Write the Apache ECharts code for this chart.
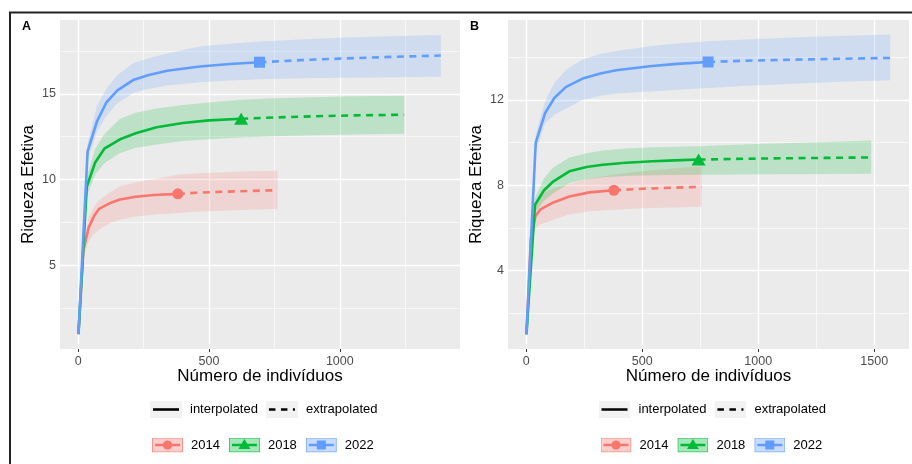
<!DOCTYPE html>
<html>
<head>
<meta charset="utf-8">
<script src="https://cdn.jsdelivr.net/npm/echarts@6.0.0/dist/echarts.min.js"></script>
<style>
  html, body { margin: 0; padding: 0; background: #fff; }
  #chart { width: 912px; height: 464px; }
</style>
</head>
<body>
<div id="chart"></div>
<script>
// ---- data ----
const years = ['2014', '2018', '2022'];

// panel A
const A_n = [381, 623, 693];
const A_2014_x = [1, 20, 40, 60, 80, 120, 160, 220, 290, 381, 450, 550, 650, 762];
const A_2014_y = [1, 5.9, 7.2, 7.86, 8.3, 8.62, 8.84, 9.0, 9.1, 9.17, 9.23, 9.29, 9.34, 9.38];
const A_2014_lo = [1, 5.5, 6.4, 6.85, 7.1, 7.45, 7.67, 7.85, 7.96, 8.06, 8.12, 8.19, 8.25, 8.3];
const A_2014_hi = [1, 6.3, 7.8, 8.4, 8.8, 9.25, 9.6, 9.85, 10.02, 10.29, 10.36, 10.43, 10.48, 10.52];
const A_2018_x = [1, 33, 65, 100, 160, 220, 300, 400, 500, 623, 750, 900, 1050, 1246];
const A_2018_y = [1, 9.6, 11.0, 11.8, 12.35, 12.7, 13.05, 13.3, 13.45, 13.55, 13.62, 13.69, 13.74, 13.78];
const A_2018_lo = [1, 9.0, 10.3, 10.95, 11.55, 11.85, 12.05, 12.25, 12.35, 12.45, 12.52, 12.58, 12.63, 12.67];
const A_2018_hi = [1, 10.2, 11.8, 12.65, 13.55, 13.9, 14.15, 14.35, 14.5, 14.65, 14.74, 14.8, 14.85, 14.88];
const A_2022_x = [1, 36, 72, 108, 150, 210, 270, 340, 465, 580, 693, 850, 1000, 1200, 1386];
const A_2022_y = [1, 11.65, 13.4, 14.5, 15.2, 15.8, 16.1, 16.34, 16.59, 16.74, 16.84, 16.96, 17.05, 17.15, 17.23];
const A_2022_lo = [1, 11.15, 12.8, 13.7, 14.45, 15.05, 15.3, 15.48, 15.68, 15.78, 15.85, 15.9, 15.94, 15.97, 16.0];
const A_2022_hi = [1, 12.1, 14.3, 15.3, 16.1, 16.78, 17.07, 17.35, 17.75, 17.92, 18.04, 18.17, 18.26, 18.35, 18.43];

// panel B
const B_n = [378, 743, 784];
const B_2014_x = [1, 20, 40, 60, 85, 120, 186, 272, 378, 500, 630, 756];
const B_2014_y = [1, 5.5, 6.55, 6.85, 7.0, 7.2, 7.47, 7.66, 7.76, 7.83, 7.88, 7.92];
const B_2014_lo = [1, 5.2, 6.0, 6.15, 6.25, 6.4, 6.62, 6.77, 6.85, 6.91, 6.95, 6.98];
const B_2014_hi = [1, 5.8, 7.1, 7.45, 7.7, 7.85, 8.05, 8.3, 8.5, 8.65, 8.78, 8.88];
const B_2018_x = [1, 38, 76, 114, 186, 260, 330, 430, 545, 640, 743, 900, 1100, 1300, 1487];
const B_2018_y = [1, 7.08, 7.75, 8.15, 8.65, 8.85, 8.96, 9.05, 9.12, 9.16, 9.2, 9.23, 9.26, 9.28, 9.3];
const B_2018_lo = [1, 6.7, 7.25, 7.6, 8.1, 8.28, 8.37, 8.43, 8.46, 8.48, 8.49, 8.5, 8.51, 8.52, 8.53];
const B_2018_hi = [1, 7.4, 8.3, 8.8, 9.3, 9.5, 9.62, 9.72, 9.78, 9.8, 9.82, 9.9, 9.97, 10.03, 10.09];
const B_2022_x = [1, 41, 82, 122, 172, 243, 320, 388, 532, 650, 784, 950, 1150, 1350, 1569];
const B_2022_y = [1, 10.0, 11.4, 12.1, 12.61, 13.0, 13.24, 13.39, 13.58, 13.69, 13.78, 13.84, 13.89, 13.93, 13.97];
const B_2022_lo = [1, 9.6, 10.9, 11.3, 11.6, 12.0, 12.2, 12.3, 12.4, 12.48, 12.56, 12.66, 12.76, 12.85, 12.92];
const B_2022_hi = [1, 10.4, 11.95, 12.8, 13.42, 13.9, 14.15, 14.3, 14.52, 14.65, 14.75, 14.84, 14.93, 15.0, 15.07];

// axis ticks
const A_xTicks = [0, 500, 1000];
const A_xMinor = [250, 750, 1250];
const A_yTicks = [5, 10, 15];
const A_yMinor = [2.5, 7.5, 12.5, 17.5];
const B_xTicks = [0, 500, 1000, 1500];
const B_xMinor = [250, 750, 1250];
const B_yTicks = [4, 8, 12];
const B_yMinor = [2, 6, 10, 14];

// ---- styling ----
const FONT = '"Liberation Sans", Arial, sans-serif';
const COLORS = ['#F8766D', '#00BA38', '#619CFF'];
const RGB = ['248,118,109', '0,186,56', '97,156,255'];
const SYMBOLS = ['circle', 'triangle', 'rect'];
const SYMBOL_SIZES = [11, [14, 12], 11];

const panels = [
  {
    label: 'A', grid: { left: 60, top: 20, width: 400, height: 329 },
    xMin: -69.5, xMax: 1459.5, yMin: 0.13, yMax: 19.3,
    xTicks: A_xTicks, xMinor: A_xMinor, yTicks: A_yTicks, yMinor: A_yMinor,
    n: A_n,
    curves: [
      [A_2014_x, A_2014_y, A_2014_lo, A_2014_hi],
      [A_2018_x, A_2018_y, A_2018_lo, A_2018_hi],
      [A_2022_x, A_2022_y, A_2022_lo, A_2022_hi]
    ],
    legendLeft: [150, 152], labelPos: [22, 20]
  },
  {
    label: 'B', grid: { left: 508, top: 20, width: 401, height: 329 },
    xMin: -78.5, xMax: 1650, yMin: 0.31, yMax: 15.75,
    xTicks: B_xTicks, xMinor: B_xMinor, yTicks: B_yTicks, yMinor: B_yMinor,
    n: B_n,
    curves: [
      [B_2014_x, B_2014_y, B_2014_lo, B_2014_hi],
      [B_2018_x, B_2018_y, B_2018_lo, B_2018_hi],
      [B_2022_x, B_2022_y, B_2022_lo, B_2022_hi]
    ],
    legendLeft: [598.5, 600.5], labelPos: [470, 20]
  }
];

const svgIcon = (w, h, body) => 'image://data:image/svg+xml;charset=utf-8,' +
  encodeURIComponent(`<svg xmlns="http://www.w3.org/2000/svg" width="${w}" height="${h}" viewBox="0 0 ${w} ${h}">${body}</svg>`);

const ICON_SOLID = svgIcon(32, 17,
  '<rect width="32" height="17" fill="#F2F2F2"/><line x1="3" y1="8.5" x2="29" y2="8.5" stroke="#000" stroke-width="2.6"/>');
const ICON_DASH = svgIcon(32, 17,
  '<rect width="32" height="17" fill="#F2F2F2"/><line x1="3" y1="8.5" x2="29" y2="8.5" stroke="#000" stroke-width="2.6" stroke-dasharray="6.5 5.5"/>');

function yearIcon(i) {
  const c = COLORS[i];
  let marker = '';
  if (i === 0) marker = `<circle cx="15.5" cy="7.5" r="4.6" fill="${c}"/>`;
  if (i === 1) marker = `<polygon points="15.5,1.5 21.5,11.5 9.5,11.5" fill="${c}"/>`;
  if (i === 2) marker = `<rect x="11" y="3" width="9" height="9" fill="${c}"/>`;
  return svgIcon(31, 15,
    `<rect x="0.5" y="0.5" width="30" height="14" fill="rgba(${RGB[i]},0.35)" stroke="rgba(${RGB[i]},0.75)" stroke-width="1"/>` +
    `<line x1="3" y1="7.5" x2="28" y2="7.5" stroke="${c}" stroke-width="2.6"/>` + marker);
}

const series = [];
const xAxis = [];
const yAxis = [];
const grid = [];
const legend = [];
const title = [];

const tickStyle = { show: true, length: 3, lineStyle: { color: '#333333', width: 1 } };
const labelStyle = { color: '#4D4D4D', fontSize: 12.5, fontFamily: FONT };

panels.forEach((p, pi) => {
  grid.push(Object.assign({ show: true, backgroundColor: '#EBEBEB', borderWidth: 0, outerBoundsMode: 'none' }, p.grid));

  xAxis.push({
    gridIndex: pi, type: 'value', min: p.xMin, max: p.xMax,
    axisLine: { show: false },
    axisTick: Object.assign({ customValues: p.xTicks }, tickStyle),
    axisLabel: Object.assign({ customValues: p.xTicks, margin: 6, formatter: v => String(v) }, labelStyle),
    splitLine: { show: false },
    name: 'Número de indivíduos', nameLocation: 'middle', nameGap: 19, nameMoveOverlap: false,
    nameTextStyle: { fontSize: 17, color: '#000', fontFamily: FONT }
  });
  yAxis.push({
    gridIndex: pi, type: 'value', min: p.yMin, max: p.yMax,
    axisLine: { show: false },
    axisTick: Object.assign({ customValues: p.yTicks }, tickStyle),
    axisLabel: Object.assign({ customValues: p.yTicks, margin: 4, formatter: v => String(v) }, labelStyle),
    splitLine: { show: false },
    name: 'Riqueza Efetiva', nameLocation: 'middle', nameGap: 23, nameMoveOverlap: false,
    nameTextStyle: { fontSize: 17, color: '#000', fontFamily: FONT }
  });

  // ggplot-like grid lines
  const gl = [];
  p.yTicks.forEach(v => gl.push({ yAxis: v, lineStyle: { width: 1.3 } }));
  p.yMinor.forEach(v => gl.push({ yAxis: v, lineStyle: { width: 0.6 } }));
  p.xTicks.forEach(v => gl.push({ xAxis: v, lineStyle: { width: 1.3 } }));
  p.xMinor.forEach(v => gl.push({ xAxis: v, lineStyle: { width: 0.6 } }));
  series.push({
    type: 'line', name: 'grid' + pi, xAxisIndex: pi, yAxisIndex: pi, data: [], z: 1,
    markLine: {
      silent: true, symbol: ['none', 'none'], label: { show: false }, z: 1,
      lineStyle: { color: '#FFFFFF', type: 'solid', opacity: 1 },
      emphasis: { disabled: true }, data: gl
    }
  });

  p.curves.forEach((cv, ci) => {
    const [xs, ys, lo, hi] = cv;
    const n = p.n[ci];
    const band = xs.map((x, k) => [x, lo[k], hi[k]]);
    series.push({
      type: 'custom', name: years[ci], xAxisIndex: pi, yAxisIndex: pi, z: 2, silent: true,
      data: band, encode: { x: 0, y: [1, 2] },
      renderItem: (params, api) => {
        if (params.dataIndex !== 0) return null;
        const pts = [];
        band.forEach(d => pts.push(api.coord([d[0], d[2]])));
        for (let k = band.length - 1; k >= 0; k--) pts.push(api.coord([band[k][0], band[k][1]]));
        return { type: 'polygon', shape: { points: pts }, style: { fill: COLORS[ci], opacity: 0.2 } };
      }
    });
    const pts = xs.map((x, k) => [x, ys[k]]);
    series.push({
      type: 'line', name: 'interpolated', xAxisIndex: pi, yAxisIndex: pi, z: 3,
      data: pts.filter(d => d[0] <= n), showSymbol: false, symbol: 'none',
      lineStyle: { color: COLORS[ci], width: 2.6 }, itemStyle: { color: COLORS[ci] }, silent: true
    });
    series.push({
      type: 'line', name: 'extrapolated', xAxisIndex: pi, yAxisIndex: pi, z: 3,
      data: pts.filter(d => d[0] >= n), showSymbol: false, symbol: 'none',
      lineStyle: { color: COLORS[ci], width: 2.6, type: [7, 5.5] }, itemStyle: { color: COLORS[ci] }, silent: true
    });
    series.push({
      type: 'scatter', name: 'obs' + years[ci], xAxisIndex: pi, yAxisIndex: pi, z: 4,
      data: pts.filter(d => d[0] === n), symbol: SYMBOLS[ci], symbolSize: SYMBOL_SIZES[ci],
      itemStyle: { color: COLORS[ci], opacity: 1 }, silent: true
    });
  });

  const legendText = { fontSize: 13, color: '#000', fontFamily: FONT, padding: [0, 0, 0, 3] };
  legend.push({
    left: p.legendLeft[0], top: 401, padding: 0, itemWidth: 32, itemHeight: 17, itemGap: 8,
    selectedMode: false, textStyle: legendText,
    data: [{ name: 'interpolated', icon: ICON_SOLID }, { name: 'extrapolated', icon: ICON_DASH }]
  });
  legend.push({
    left: p.legendLeft[1], top: 437.5, padding: 0, itemWidth: 31, itemHeight: 15, itemGap: 9,
    selectedMode: false, textStyle: legendText,
    data: years.map((y, i) => ({ name: y, icon: yearIcon(i) }))
  });

  title.push({
    text: p.label, left: p.labelPos[0], top: p.labelPos[1], padding: 0,
    textStyle: { fontSize: 12.5, fontWeight: 'bold', color: '#000', fontFamily: FONT }
  });
});

const chart = echarts.init(document.getElementById('chart'), null, { renderer: 'canvas' });
chart.setOption({
  animation: false,
  backgroundColor: '#FFFFFF',
  title, grid, xAxis, yAxis, legend, series,
  graphic: [
    { type: 'line', shape: { x1: 9, y1: 12.5, x2: 912, y2: 12.5 }, style: { stroke: '#222', lineWidth: 2 }, silent: true },
    { type: 'line', shape: { x1: 10, y1: 12, x2: 10, y2: 464 }, style: { stroke: '#222', lineWidth: 2 }, silent: true }
  ]
});
</script>
</body>
</html>
